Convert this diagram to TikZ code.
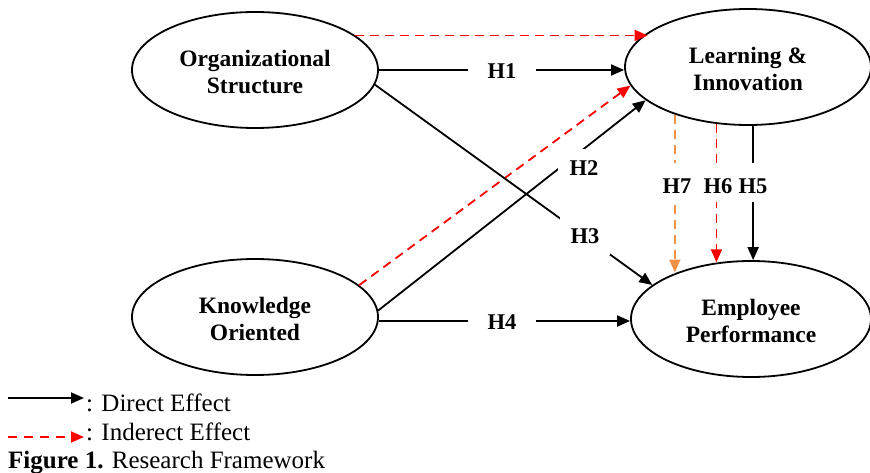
\documentclass[tikz,border=0pt]{standalone}
\usepackage{fontspec}
\setmainfont{Liberation Serif}
\usetikzlibrary{shapes.geometric,arrows.meta}
\definecolor{indred}{RGB}{255,0,0}
\definecolor{indorange}{RGB}{240,145,70}
\newcommand{\twolines}[2]{\raisebox{-11pt}[0pt][0pt]{\begin{tabular}{@{}c@{}}#1\\#2\end{tabular}}}
\begin{document}
\begin{tikzpicture}[x=1pt,y=-1pt,
  construct/.style={ellipse,draw,line width=1.8pt,minimum width=246pt,minimum height=116pt,
    inner sep=0pt,font=\fontsize{23.5}{27}\selectfont\bfseries},
  tip/.style={-{Triangle[length=13pt,width=11pt]}},
  direct/.style={tip,line width=1.8pt,black},
  indirect/.style={tip,line width=1.8pt,indred,dash pattern=on 9pt off 6pt},
  indirecto/.style={tip,line width=1.8pt,indorange,dash pattern=on 9pt off 6pt},
  hlabel/.style={fill=white,inner xsep=20pt,inner ysep=4pt,font=\fontsize{22.5}{26}\selectfont\bfseries},
  dlabel/.style={fill=white,inner sep=11pt,font=\fontsize{22.5}{26}\selectfont\bfseries},
  vlabel/.style={fill=white,inner xsep=2pt,inner ysep=8pt,text height=23pt,anchor=base,
    font=\fontsize{22.5}{26}\selectfont\bfseries},
  legendtext/.style={anchor=base west,inner sep=0pt,font=\fontsize{25}{28}\selectfont}
]
\useasboundingbox (0,0) rectangle (870,473);

% constructs
\node[construct] (OS) at (255,70) {\twolines{Organizational}{Structure}};
\node[construct] (LI) at (748,67) {\twolines{Learning \&}{Innovation}};
\node[construct] (KO) at (255,317) {\twolines{Knowledge}{Oriented}};
\node[construct,minimum width=240pt] (EP) at (751,319) {\twolines{Employee}{Performance}};

% indirect effects
\draw[indirect] (OS.19.7) -- (OS.19.7 -| LI.161.6);
\draw[indirect] (KO.17.4) -- (LI.189.5);

% H1
\draw[direct] (OS.east) -- (OS.east -| LI.west);
\node[hlabel] (h1) at (502,71) {H1};

% H3
\draw[direct] (OS.-7.1) -- (EP.161.4);
\node[dlabel] (h3) at (585,236) {H3};

% H2
\draw[direct] (KO.3) -- (LI.198.8);
\node[dlabel,inner sep=12pt] (h2) at (584,168) {H2};

% H4
\draw[direct] (KO.east |- 0,321) -- (EP.west |- 0,321);
\node[hlabel] (h4) at (502,322) {H4};

% vertical effects
\draw[indirecto] (LI.213.5) -- (LI.213.5 |- EP.148.7);
\node[vlabel] (h7) at (677,194) {H7};
\draw[indirect] (LI.241.8) -- (LI.241.8 |- EP.120.6);
\node[vlabel] (h6) at (718,194) {H6};
\draw[direct] (LI.275) -- (LI.275 |- EP.88);
\node[vlabel] (h5) at (753,194) {H5};

% legend
\coordinate (la1) at (8,398);
\coordinate (lb1) at (84,398);
\draw[direct] (la1) -- (lb1);
\node[legendtext] (lt1) at (86,411) {: Direct Effect};
\coordinate (la2) at (8,437);
\coordinate (lb2) at (84,437);
\draw[indirect,dash pattern=on 9pt off 7pt] (la2) -- (lb2);
\node[legendtext] (lt2) at (86,440) {: Inderect Effect};
\node[legendtext] (cap) at (8,468) {\textbf{Figure 1.} Research Framework};
\end{tikzpicture}
\end{document}
